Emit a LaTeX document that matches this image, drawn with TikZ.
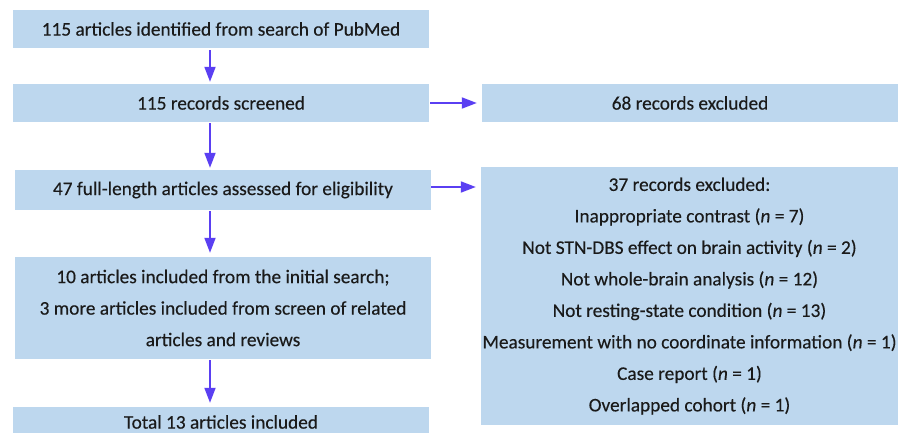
\documentclass[tikz,border=0pt]{standalone}
\usepackage{fontspec}
\setmainfont{Carlito}
\newfontfamily\boxfont{Carlito}[FakeBold=0.3,ItalicFeatures={FakeBold=0.3}]
\usetikzlibrary{arrows.meta}
\definecolor{boxfill}{HTML}{BDD7EE}
\definecolor{arrowc}{HTML}{5A3FF2}
\definecolor{txt}{HTML}{1A1A1A}
\begin{document}
\begin{tikzpicture}[x=1pt,y=-1pt,
  box/.style={rectangle,fill=boxfill,draw=none,minimum width=416pt,inner sep=0pt,align=center,text=txt,font=\boxfont\fontsize{19.3}{31.5}\selectfont},
  arr/.style={draw=arrowc,line width=1.8pt,-{Triangle[length=15pt,width=11pt]}}]
\useasboundingbox (0,0) rectangle (906,433);
\fill[white] (0,0) rectangle (906,433);
\node[box,minimum height=38pt] (b1) at (221,29) {115 articles identified from search of PubMed};
\node[box,minimum height=38pt] (b2) at (221,103) {115 records screened};
\node[box,minimum height=40pt] (b3) at (223,190) {47 full-length articles assessed for eligibility};
\node[box,minimum height=102pt] (b4) at (223,308) {10 articles included from the initial search;\\3 more articles included from screen of related\\articles and reviews};
\node[box,minimum height=30pt] (b5) at (221,422) {Total 13 articles included};
\node[box,minimum height=38pt] (r1) at (690,103) {68 records excluded};
\node[box,minimum width=417pt,minimum height=258pt] (r2) at (689.5,296) {37 records excluded:\\Inappropriate contrast (\textit{n} = 7)\\Not STN-DBS effect on brain activity (\textit{n} = 2)\\Not whole-brain analysis (\textit{n} = 12)\\Not resting-state condition (\textit{n} = 13)\\Measurement with no coordinate information (\textit{n} = 1)\\Case report (\textit{n} = 1)\\Overlapped cohort (\textit{n} = 1)};
\coordinate (ax) at (210,0);
\draw[arr,shorten <=2pt,shorten >=2pt] (b1.south -| ax) -- (b2.north -| ax);
\draw[arr,shorten <=1pt,shorten >=2pt] (b2.south -| ax) -- (b3.north -| ax);
\draw[arr,shorten <=1pt,shorten >=4pt] (b3.south -| ax) -- (b4.north -| ax);
\draw[arr,shorten <=1pt,shorten >=4pt] (b4.south -| ax) -- (b5.north -| ax);
\draw[arr,shorten <=1pt,shorten >=5pt] (b2.east) -- (r1.west);
\draw[arr,shorten <=0pt,shorten >=5pt] (b3.east) ++(0,-3) coordinate (h2) (h2) -- (h2 -| r2.west);
\end{tikzpicture}
\end{document}
